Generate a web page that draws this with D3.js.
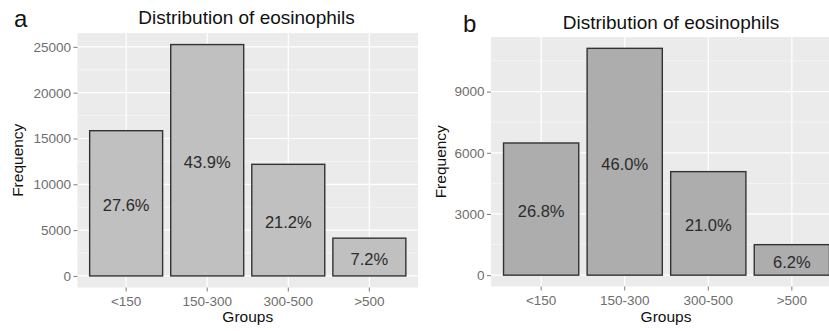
<!DOCTYPE html>
<html>
<head>
<meta charset="utf-8">
<script src="https://cdn.jsdelivr.net/npm/d3@7"></script>
<style>
  html, body { margin: 0; padding: 0; background: #fff; }
  svg { display: block; font-family: "Liberation Sans", Arial, sans-serif; }
</style>
</head>
<body>
<svg id="chart" width="829" height="331"></svg>
<script>
// ---- data ----
const groups = ["<150", "150-300", "300-500", ">500"];
const countsA = [15850, 25250, 12180, 4120];
const labelsA = ["27.6%", "43.9%", "21.2%", "7.2%"];
const countsB = [6480, 11120, 5075, 1495];
const labelsB = ["26.8%", "46.0%", "21.0%", "6.2%"];
const ticksA = [0, 5000, 10000, 15000, 20000, 25000];
const ticksB = [0, 3000, 6000, 9000];
const titleText = "Distribution of eosinophils";
const xTitle = "Groups";
const yTitle = "Frequency";

const svg = d3.select("#chart");

function panel(cfg) {
  const g = svg.append("g");
  const maxV = d3.max(cfg.counts);
  const y = d3.scaleLinear()
    .domain([-maxV * 0.05, maxV * 1.05])
    .range([cfg.bottom, cfg.top]);
  const x = d3.scaleBand()
    .domain(groups)
    .range([cfg.left, cfg.right])
    .paddingInner(0.1)
    .paddingOuter(0.15);

  // panel background
  g.append("rect")
    .attr("x", cfg.left).attr("y", cfg.top)
    .attr("width", cfg.right - cfg.left).attr("height", cfg.bottom - cfg.top)
    .attr("fill", "#ebebeb");

  // minor grid
  const minor = [];
  const step = cfg.ticks[1] - cfg.ticks[0];
  for (let i = 0; i < cfg.ticks.length; i++) {
    const m = cfg.ticks[i] + step / 2;
    if (m < y.domain()[1]) minor.push(m);
  }
  g.selectAll(".minor").data(minor).enter().append("line")
    .attr("x1", cfg.left).attr("x2", cfg.right)
    .attr("y1", d => y(d)).attr("y2", d => y(d))
    .attr("stroke", "#fafafa").attr("stroke-width", 0.6);
  // major grid
  g.selectAll(".majorY").data(cfg.ticks).enter().append("line")
    .attr("x1", cfg.left).attr("x2", cfg.right)
    .attr("y1", d => y(d)).attr("y2", d => y(d))
    .attr("stroke", "#ffffff").attr("stroke-width", 1.2);
  g.selectAll(".majorX").data(groups).enter().append("line")
    .attr("x1", d => x(d) + x.bandwidth() / 2).attr("x2", d => x(d) + x.bandwidth() / 2)
    .attr("y1", cfg.top).attr("y2", cfg.bottom)
    .attr("stroke", "#ffffff").attr("stroke-width", 1.2);

  // bars
  g.selectAll(".bar").data(cfg.counts).enter().append("rect")
    .attr("x", (d, i) => x(groups[i]))
    .attr("y", d => y(d))
    .attr("width", x.bandwidth())
    .attr("height", d => y(0) - y(d))
    .attr("fill", cfg.fill)
    .attr("stroke", "#333333").attr("stroke-width", 1.4);

  // bar labels
  g.selectAll(".lbl").data(cfg.counts).enter().append("text")
    .attr("x", (d, i) => x(groups[i]) + x.bandwidth() / 2)
    .attr("y", d => y(d / 2))
    .attr("dy", "0.48em")
    .attr("text-anchor", "middle")
    .attr("font-size", 16.5)
    .attr("fill", "#2b2b2b")
    .text((d, i) => cfg.labels[i]);

  // y axis
  const ya = g.append("g")
    .attr("transform", `translate(${cfg.left},0)`)
    .call(d3.axisLeft(y).tickValues(cfg.ticks).tickSize(4).tickPadding(2.5).tickFormat(d3.format("d")));
  ya.select(".domain").remove();
  ya.selectAll("line").attr("stroke", "#7a7a7a").attr("stroke-width", 1);
  ya.selectAll("text").attr("font-size", 13.5).attr("fill", "#6e6e6e")
    .attr("font-family", "Liberation Sans, Arial, sans-serif");

  // x axis
  const xa = g.append("g")
    .attr("transform", `translate(0,${cfg.bottom})`)
    .call(d3.axisBottom(x).tickSize(4).tickPadding(4.5));
  xa.select(".domain").remove();
  xa.selectAll("line").attr("stroke", "#7a7a7a").attr("stroke-width", 1);
  xa.selectAll("text").attr("font-size", 13.5).attr("fill", "#6e6e6e")
    .attr("font-family", "Liberation Sans, Arial, sans-serif");

  // axis titles
  g.append("text")
    .attr("x", (cfg.left + Math.min(cfg.right, 829)) / 2 + cfg.xTitleShift)
    .attr("y", cfg.xTitleY)
    .attr("text-anchor", "middle")
    .attr("font-size", 15.5).attr("fill", "#111")
    .text(xTitle);
  g.append("text")
    .attr("transform", `translate(${cfg.yTitleX},${(cfg.top + cfg.bottom) / 2}) rotate(-90)`)
    .attr("text-anchor", "middle")
    .attr("font-size", 15.5).attr("fill", "#111")
    .text(yTitle);

  // title
  g.append("text")
    .attr("x", cfg.titleX).attr("y", cfg.titleY)
    .attr("text-anchor", "middle")
    .attr("font-size", 19).attr("fill", "#111")
    .text(titleText);

  // panel letter
  g.append("text")
    .attr("x", cfg.letterX).attr("y", cfg.letterY)
    .attr("font-size", 24).attr("fill", "#111")
    .text(cfg.letter);
}

panel({
  counts: countsA, labels: labelsA, ticks: ticksA,
  left: 77.5, right: 418, top: 33, bottom: 287.5,
  fill: "#c0c0c0",
  xTitleY: 322, xTitleShift: 0, yTitleX: 22.5,
  titleX: 246.5, titleY: 24,
  letter: "a", letterX: 14, letterY: 27
});

panel({
  counts: countsB, labels: labelsB, ticks: ticksB,
  left: 491, right: 842, top: 37, bottom: 286.5,
  fill: "#adadad",
  xTitleY: 322, xTitleShift: 6, yTitleX: 446,
  titleX: 671, titleY: 28.5,
  letter: "b", letterX: 463, letterY: 32
});
</script>
</body>
</html>
